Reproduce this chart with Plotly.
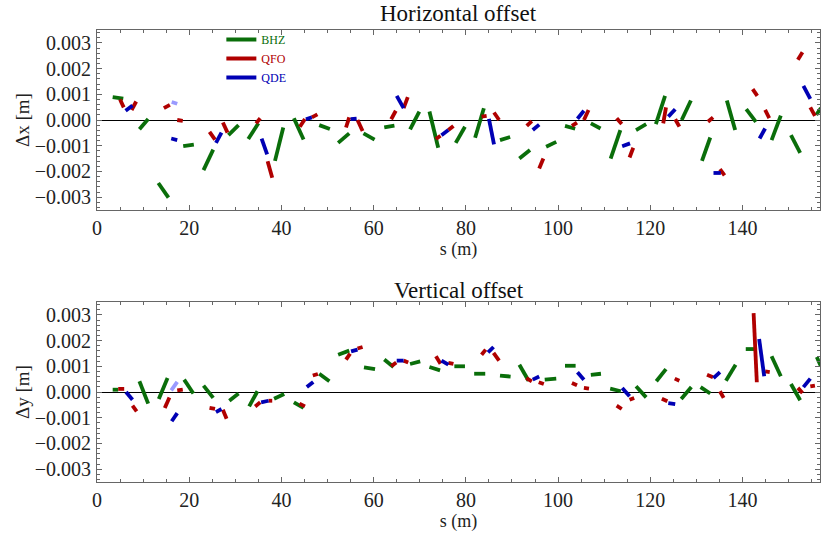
import plotly.graph_objects as go

# Each element: (s_start [m], s_end [m], offset_start [mm], offset_end [mm])
dx_BHZ = [(3.4,5.7,0.89,0.83),(9.2,11.1,-0.36,0.04),(13.3,15.5,-2.45,-3.02),(18.7,21.0,-1.02,-0.96),
          (23.1,25.2,-1.95,-1.15),(28.5,30.7,-0.59,-0.20),(32.8,35.0,-0.74,-0.13),(38.6,40.4,-1.59,-0.29),
          (42.7,44.8,0.07,-0.76),(48.2,50.5,-0.20,-0.35),(52.3,54.7,-0.89,-0.52),(57.8,60.2,-0.52,-0.76),
          (62.3,64.5,-0.29,-0.22),(67.9,69.9,-0.36,0.33),(72.1,74.0,0.33,-1.08),(77.8,79.8,-0.89,-0.26),
          (82.0,83.9,-0.69,0.46),(87.4,89.6,-0.78,-0.66),(91.6,93.9,-1.50,-1.17),(97.4,99.6,-1.04,-0.85),
          (101.5,103.7,-0.23,-0.34),(107.1,109.2,-0.13,-0.33),(111.4,113.5,-1.50,-0.39),(116.9,119.1,-0.39,-0.16),
          (121.2,123.2,-0.16,0.94),(126.8,128.8,0.0,0.76),(131.2,133.0,-1.59,-0.68),(136.6,138.4,0.76,-0.39),
          (140.8,142.9,0.42,-0.07),(146.3,148.3,-0.78,0.17),(150.5,152.5,-0.59,-1.28),(156.0,157.0,0.20,0.46)]
dx_QFO = [(5.0,5.8,0.80,0.49),(7.5,8.5,0.39,0.72),(14.5,15.8,0.46,0.59),(17.4,18.6,0.0,-0.03),
          (24.4,25.6,-0.46,-0.76),(27.3,28.3,-0.10,-0.49),(34.5,35.4,-0.13,0.07),(37.0,38.0,-1.60,-2.25),
          (44.0,45.1,-0.26,0.04),(46.6,47.8,0.10,0.22),(54.0,54.7,-0.29,0.10),(56.5,57.6,0.0,-0.43),
          (63.8,64.8,0.03,0.36),(66.5,67.4,0.46,0.89),(73.5,74.5,-0.74,-0.61),(76.2,77.3,-0.39,-0.23),
          (83.4,84.5,0.13,0.16),(86.1,87.2,0.29,0.0),(93.2,94.3,-0.23,-0.04),(95.9,96.8,-1.89,-1.50),
          (103.0,104.1,-0.23,-0.10),(105.6,106.6,0.0,0.39),(112.7,113.8,0.07,-0.16),(115.5,116.3,-1.46,-1.08),
          (122.8,123.4,-0.13,0.49),(125.4,126.3,0.03,-0.26),(132.5,133.6,-0.07,0.10),(135.1,136.1,-1.91,-2.15),
          (142.2,143.2,1.20,0.94),(144.9,145.8,0.39,0.07),(152.0,153.0,2.34,2.63),(154.7,155.7,0.49,0.16)]
dx_QDE = [(6.2,7.7,0.36,0.56),(16.1,17.4,-0.72,-0.78),(25.8,27.0,-0.89,-0.49),(35.7,36.9,-0.72,-1.34),
          (45.3,46.6,0.03,0.10),(55.0,56.3,0.03,0.05),(65.0,66.5,0.94,0.46),(74.7,76.2,-0.59,-0.39),
          (85.0,86.1,0.04,-0.95),(94.5,95.9,-0.39,-0.18),(104.2,105.6,0.05,0.36),(113.9,115.6,-1.02,-0.91),
          (123.9,125.4,0.13,0.42),(133.7,135.3,-2.06,-2.06),(143.7,144.9,-0.72,-0.33),(153.2,154.7,1.33,0.82)]
dx_extra = [(16.2,17.4,0.70,0.63)]

dy_BHZ = [(3.4,4.6,0.09,0.09),(9.2,11.1,0.42,-0.45),(13.4,15.3,-0.27,0.54),(18.9,20.9,0.48,-0.06),
          (23.1,25.2,0.25,-0.23),(28.7,30.7,-0.34,-0.06),(33.0,34.8,-0.56,0.03),(38.4,40.6,-0.26,-0.08),
          (42.7,44.8,-0.40,-0.62),(48.2,50.4,0.71,0.42),(52.3,54.7,1.45,1.61),(57.9,60.3,0.96,0.89),
          (62.3,64.3,1.26,0.97),(67.9,70.1,1.09,1.19),(72.1,74.4,0.97,0.84),(77.5,79.8,1.00,1.00),
          (81.8,84.2,0.71,0.71),(87.4,89.7,0.64,0.60),(91.6,93.6,1.06,0.44),(97.1,99.6,0.48,0.52),
          (101.5,103.8,1.02,1.02),(107.1,109.3,0.67,0.71),(111.3,113.6,0.13,0.03),(116.9,119.1,0.22,-0.21),
          (121.3,123.4,0.42,0.89),(126.7,128.9,-0.27,0.19),(130.9,133.0,0.19,-0.06),(136.4,138.5,0.44,1.06),
          (140.7,142.6,1.67,1.67),(146.3,148.3,1.39,0.61),(150.5,152.5,0.31,-0.32),(156.1,157.0,1.36,1.00)]
dy_QFO = [(4.6,5.9,0.12,0.12),(7.7,8.6,-0.53,-0.75),(14.7,15.7,-0.62,-0.21),(17.4,18.6,0.06,0.09),
          (24.4,25.6,-0.62,-0.66),(27.3,28.1,-0.69,-1.04),(34.3,35.4,-0.56,-0.40),(37.2,38.0,-0.34,-0.34),
          (43.9,45.1,-0.45,-0.56),(46.8,47.9,0.64,0.70),(54.0,54.9,1.26,1.49),(56.5,57.6,1.69,1.75),
          (63.8,64.9,1.00,1.15),(66.5,67.5,1.22,1.15),(73.5,74.5,1.39,1.10),(76.2,77.3,1.13,1.09),
          (83.4,84.3,1.45,1.65),(86.0,87.2,1.52,1.22),(93.1,94.3,0.54,0.41),(95.8,96.9,0.38,0.31),
          (103.0,104.1,0.35,0.26),(105.6,106.7,0.16,0.13),(112.7,113.8,-0.53,-0.66),(115.5,116.5,-0.30,-0.23),
          (122.5,123.7,-0.26,-0.36),(125.3,126.3,0.52,0.44),(132.3,133.6,0.67,0.57),(135.1,135.9,0.03,-0.23),
          (142.4,143.1,3.07,0.38),(144.9,145.9,0.80,0.77),(152.0,153.0,0.16,-0.04),(154.7,155.7,0.22,0.25)]
dy_QDE = [(6.3,7.7,0.0,-0.30),(16.2,17.4,-1.14,-0.82),(25.8,27.0,-0.78,-0.66),(35.6,37.2,-0.40,-0.34),
          (45.5,46.9,0.19,0.39),(55.1,56.5,1.58,1.65),(65.0,66.5,1.22,1.22),(74.7,76.2,1.22,1.06),
          (84.8,86.0,1.54,1.75),(94.5,95.9,0.48,0.60),(104.2,105.6,0.77,0.48),(113.9,115.5,0.16,-0.17),
          (123.9,125.4,-0.43,-0.47),(133.7,135.1,0.54,0.77),(143.6,144.7,2.06,0.61),(153.2,154.7,0.19,0.52)]
dy_extra = [(16.1,17.4,0.06,0.39)]

families = ["BHZ", "QFO", "QDE"]
colors = {"BHZ": "#0a6e0a", "QFO": "#b00000", "QDE": "#0000b4", "extra": "#9a9aff"}
titles = ["Horizontal offset", "Vertical offset"]
ylabels = ["\u0394x [m]", "\u0394y [m]"]
s_range = [0, 156.8]
off_range = [-0.0035, 0.0035]
FONT = "Liberation Serif"
TICKFONT = dict(family=FONT, size=20, color="#222")


def segs(elems):
    xs, ys = [], []
    for s0, s1, v0, v1 in elems:
        xs += [s0, s1, None]
        ys += [v0 * 1e-3, v1 * 1e-3, None]
    return xs, ys


fig = go.Figure()
panels = [("x", "y", {"BHZ": dx_BHZ, "QFO": dx_QFO, "QDE": dx_QDE, "extra": dx_extra}),
          ("x2", "y2", {"BHZ": dy_BHZ, "QFO": dy_QFO, "QDE": dy_QDE, "extra": dy_extra})]
for pi, (xa, ya, data) in enumerate(panels):
    for fam in ["extra"] + families:
        xs, ys = segs(data[fam])
        fig.add_trace(go.Scatter(
            x=xs, y=ys, mode="lines", xaxis=xa, yaxis=ya,
            line=dict(color=colors[fam], width=3.8),
            name=f"<span style='color:{colors[fam]}'>{fam}</span>" if fam != "extra" else fam,
            showlegend=(pi == 0 and fam != "extra"),
            legendrank={"BHZ": 1, "QFO": 2, "QDE": 3}.get(fam, 9),
            hoverinfo="skip"))

W, H = 821, 538
L, R = 97, 1
top_dom = [1 - 210 / H, 1 - 30 / H]
bot_dom = [1 - 482 / H, 1 - 302 / H]


def xax(anchor):
    return dict(anchor=anchor, domain=[0, 1], range=s_range, dtick=20, tick0=0,
                showline=True, linecolor="#666", linewidth=1, mirror="allticks",
                ticks="inside", ticklen=5, tickcolor="#666", showgrid=False, automargin=False,
                tickfont=TICKFONT, zeroline=False, ticklabelstandoff=0,
                minor=dict(ticks="inside", dtick=5, ticklen=3, tickcolor="#666"),
                title=dict(text="s (m)", font=dict(family=FONT, size=18, color="#222"), standoff=0))


def yax(anchor, dom, label):
    return dict(anchor=anchor, domain=dom, range=off_range, dtick=0.001, tick0=0, tickformat=".3f",
                showline=True, linecolor="#666", linewidth=1, mirror="allticks",
                ticks="inside", ticklen=5, tickcolor="#666", showgrid=False, automargin=False,
                tickfont=TICKFONT, ticklabelstandoff=1,
                zeroline=True, zerolinecolor="black", zerolinewidth=1,
                minor=dict(ticks="inside", dtick=0.0002, ticklen=3, tickcolor="#666"),
                title=dict(text=label, font=dict(family=FONT, size=19, color="#222"), standoff=0))


fig.update_layout(
    width=W, height=H, margin=dict(l=L, r=R, t=0, b=0),
    paper_bgcolor="white", plot_bgcolor="white",
    font=dict(family=FONT, color="#222"),
    xaxis=xax("y"), yaxis=yax("x", top_dom, ylabels[0]),
    xaxis2=xax("y2"), yaxis2=yax("x2", bot_dom, ylabels[1]),
    legend=dict(x=0.172, y=1 - 25 / H, xanchor="left", yanchor="top", bgcolor="rgba(0,0,0,0)",
                font=dict(family=FONT, size=12), itemwidth=30, tracegroupgap=0),
    annotations=[
        dict(text=titles[0], xref="paper", yref="paper", x=0.5, y=1 - 14 / H,
             xanchor="center", yanchor="middle", showarrow=False,
             font=dict(family=FONT, size=23, color="#111")),
        dict(text=titles[1], xref="paper", yref="paper", x=0.5, y=1 - 290 / H,
             xanchor="center", yanchor="middle", showarrow=False,
             font=dict(family=FONT, size=23, color="#111")),
    ],
)

fig.write_html("out.html", config={"displayModeBar": False},
               post_script="document.body.style.margin='0';document.body.style.overflow='hidden';")
